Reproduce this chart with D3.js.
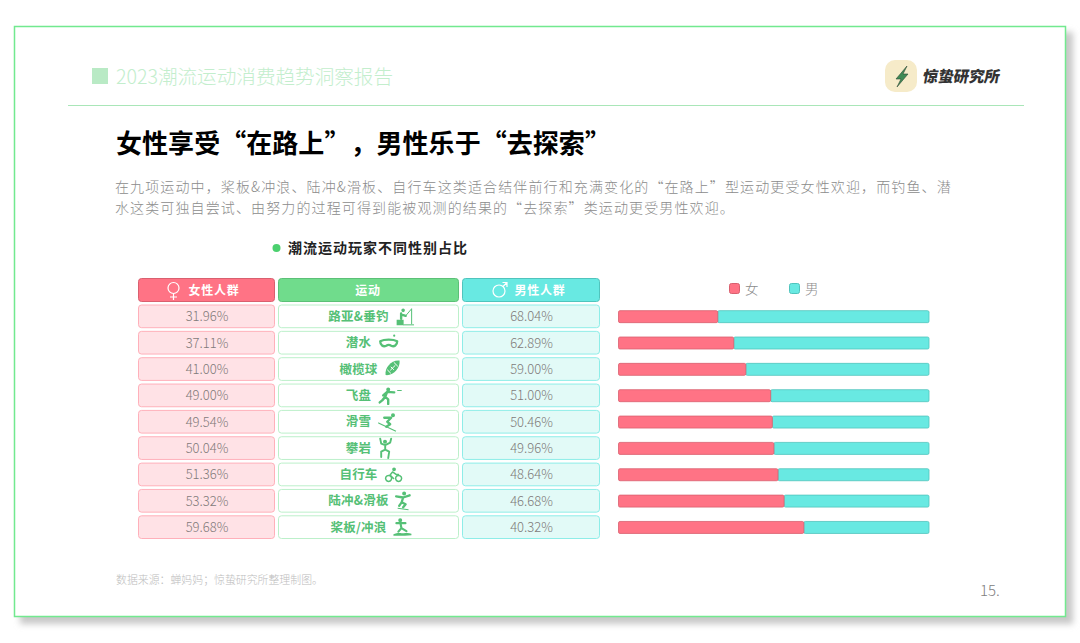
<!DOCTYPE html>
<html>
<head>
<meta charset="utf-8">
<script src="https://cdnjs.cloudflare.com/ajax/libs/d3/7.8.5/d3.min.js"></script>
<style>
html, body { margin: 0; padding: 0; background: #fff; }
svg { display: block; }
text { font-family: "Noto Sans CJK SC", "Noto Sans", sans-serif; text-spacing-trim: space-all; font-kerning: none; }
</style>
</head>
<body>
<div id="chart"></div>
<script>
const sports = ["路亚&垂钓", "潜水", "橄榄球", "飞盘", "滑雪", "攀岩", "自行车", "陆冲&滑板", "桨板/冲浪"];
const femaleShare = [31.96, 37.11, 41.00, 49.00, 49.54, 50.04, 51.36, 53.32, 59.68];
const maleShare = [68.04, 62.89, 59.00, 51.00, 50.46, 49.96, 48.64, 46.68, 40.32];
const legendLabels = ["女", "男"];
const bodyLines = [
    "在九项运动中，桨板&冲浪、陆冲&滑板、自行车这类适合结伴前行和充满变化的“在路上”型运动更受女性欢迎，而钓鱼、潜",
    "水这类可独自尝试、由努力的过程可得到能被观测的结果的“去探索”类运动更受男性欢迎。"
];

const pink = "#ff7385", pinkEdge = "#d9606f", cyan = "#68e9e2", cyanEdge = "#50c4bd", green = "#70dc8c", iconGreen = "#55c076";

const svg = d3.select("#chart").append("svg").attr("width", 1080).attr("height", 643);

// Card with soft shadow
const defs = svg.append("defs");
defs.append("filter").attr("id", "blur").append("feGaussianBlur").attr("stdDeviation", 3);
svg.append("rect").attr("x", 20).attr("y", 32).attr("width", 1053).attr("height", 592).attr("fill", "#c8c8c8").attr("filter", "url(#blur)");
svg.append("rect").attr("x", 14.5).attr("y", 26.5).attr("width", 1051).attr("height", 590).attr("fill", "#fff").attr("stroke", "#72e98f").attr("stroke-width", 1.5);

// Header
svg.append("rect").attr("x", 92).attr("y", 68).attr("width", 16).attr("height", 16).attr("fill", "#b9eac5");
svg.append("text").attr("x", 116).attr("y", 84).attr("font-size", 19.6).attr("font-weight", 300).attr("fill", "#c3eecd").text("2023潮流运动消费趋势洞察报告");
svg.append("line").attr("x1", 68).attr("x2", 1024).attr("y1", 105.5).attr("y2", 105.5).attr("stroke", "#a9e6b8");

// Logo
svg.append("rect").attr("x", 885).attr("y", 60).attr("width", 32).attr("height", 32).attr("rx", 10).attr("fill", "#f6ebc9");
svg.append("path").attr("d", "M907 66 L896 79 L901 79 L897 87 L908 74 L903 74 Z").attr("fill", "#3f8a55").attr("stroke", "#2e4a38").attr("stroke-width", 0.6);
svg.append("text").attr("transform", "translate(922,82) skewX(-10)").attr("font-size", 15.4).attr("font-weight", 900).attr("fill", "#333").text("惊蛰研究所");

// Title and body
svg.append("text").attr("x", 116).attr("y", 153).attr("font-size", 26).attr("font-weight", 700).attr("letter-spacing", 0.05).attr("fill", "#000").text("女性享受“在路上”，男性乐于“去探索”");
svg.selectAll(".body-line").data(bodyLines).enter().append("text")
    .attr("class", "body-line")
    .attr("x", 115)
    .attr("y", (d, i) => 192 + i * 21)
    .attr("font-size", 14)
    .attr("font-weight", 300)
    .attr("letter-spacing", 1.12)
    .attr("fill", "#8c8c8c")
    .text(d => d);

// Chart title
svg.append("circle").attr("cx", 276.5).attr("cy", 248).attr("r", 4).attr("fill", "#4bd06e");
svg.append("text").attr("x", 288).attr("y", 253).attr("font-size", 14).attr("font-weight", 700).attr("letter-spacing", 1).attr("fill", "#222").text("潮流运动玩家不同性别占比");

// Row scale shared by table and bars
const y = d3.scaleBand().domain(sports).range([305, 538.5]).paddingInner(0.1385).paddingOuter(0);
const x = d3.scaleLinear().domain([0, 100]).range([618.5, 929]);
const mid = d => y(d) + y.bandwidth() / 2;

// Table columns
const columns = [
    { x: 138, w: 137, head: pink, headEdge: pinkEdge, fill: "#ffe2e6", edge: "#ffb0ba", title: "女性人群", values: femaleShare },
    { x: 278, w: 181, head: green, headEdge: "#5cc077", fill: "#fff", edge: "#bcf0ca", title: "运动" },
    { x: 462, w: 138, head: cyan, headEdge: cyanEdge, fill: "#e2faf7", edge: "#8eede8", title: "男性人群", values: maleShare }
];

columns.forEach(col => {
    svg.append("rect").attr("x", col.x + 0.5).attr("y", 278.5).attr("width", col.w - 1).attr("height", 23).attr("rx", 3)
        .attr("fill", col.head).attr("stroke", col.headEdge);
    svg.selectAll(null).data(sports).enter().append("rect")
        .attr("x", col.x + 0.5)
        .attr("y", d => y(d))
        .attr("width", col.w - 1)
        .attr("height", y.bandwidth())
        .attr("rx", 3)
        .attr("fill", col.fill)
        .attr("stroke", col.edge);
    if (col.values) {
        svg.selectAll(null).data(sports).enter().append("text")
            .attr("x", col.x + col.w / 2 + 0.5)
            .attr("y", d => mid(d) + 5)
            .attr("text-anchor", "middle")
            .attr("font-family", "'Noto Sans'")
            .attr("font-weight", 300)
            .attr("font-size", 13)
            .attr("fill", "#7f7a7a")
            .text((d, i) => col.values[i].toFixed(2) + "%");
    }
});

// Header labels
const headText = (cx, s) => svg.append("text").attr("x", cx).attr("y", 294.5).attr("text-anchor", "middle")
    .attr("font-size", 12).attr("font-weight", 700).attr("letter-spacing", 0.8).attr("fill", "#fff").text(s);
headText(214, "女性人群");
headText(368, "运动");
headText(540, "男性人群");

// Gender symbols
const symbol = svg.append("g").attr("fill", "none").attr("stroke", "#fff").attr("stroke-width", 1.2);
symbol.append("circle").attr("cx", 173.5).attr("cy", 288).attr("r", 5.5);
symbol.append("path").attr("d", "M173.5 293.5V300M170 297H177");
symbol.append("circle").attr("cx", 499).attr("cy", 291).attr("r", 6);
symbol.append("path").attr("d", "M503 286.5L507 282.5M502.5 282.5H507V287");

// Small sport pictograms: limbs are stroked, heads and boards are filled
const dot = (cx, cy, r) => "M" + (cx - r) + " " + cy + "a" + r + " " + r + " 0 1 0 " + (2 * r) + " 0a" + r + " " + r + " 0 1 0 " + (-2 * r) + " 0Z";
const icons = {
    "路亚&垂钓": { w: 18, sw: 1, line: "M10 9L15.5 2.5M16 2V17M8 18H18", thick: "M5.5 6.5V12M5.5 7.5L10 9", solid: dot(7.5, 3.5, 1.8) + "M1 13H8V18.5H1Z" },
    "潜水": { w: 21, sw: 2.3, line: "M2 8C6 6 15 6 19 8C19 12 16 14 13 12.5C11.5 11.5 9.5 11.5 8 12.5C5 14 2 12 2 8Z", solid: dot(16, 2.5, 1.1) },
    "橄榄球": { w: 16, solid: "M1 15.5C0 8 7 0 15 1C16 8 9 16.5 1 15.5Z", cut: "M3 10.5L6 13.5M9.5 3L13 6.5M6 10.5L10.5 6M6.5 7.5L9 10" },
    "飞盘": { w: 23, sw: 2.4, line: "M9 6L7 11L10 13.5V18M7 11L4 14.5L1.5 16.5M9 6L16 6.5M9 6L5 9.5", solid: dot(10, 3.5, 2) + "M19 4H23.5V5H19Z" },
    "滑雪": { w: 18, sw: 2.3, line: "M13 5.5L6 5.5M13 5.5L9 9.5L12 12L8 14.5", solid: dot(14.8, 3, 2) + "M0 10L18 18.5L17.5 19.5L0 11.2Z" },
    "攀岩": { w: 14, sw: 1.9, line: "M2 0L3 5L7 6.5L12 4L13 0M7 6.5V11M7 11L3 13V18.5M7 11L11 13L10 19.5", solid: dot(6.8, 3.2, 2) },
    "自行车": { w: 17, sw: 1.5, line: "M4 10.5a3 3 0 1 0 .1 0ZM14 10.5a3 3 0 1 0 .1 0ZM8 7L5.5 10L9 13.5M8 7L11.5 9.5H14", solid: dot(9.5, 4.4, 1.9) },
    "陆冲&滑板": { w: 15, sw: 2.3, line: "M0.5 5L7.5 6.2L14 4M7.5 6.2L6 11M6 11L10 13L7.5 16M6 11L3.5 14.5", solid: dot(8.5, 2.2, 2) + "M2 16.5L13 18L12.8 19L2 17.5Z" },
    "桨板/冲浪": { w: 18, sw: 2.2, line: "M3 5.5H12M7 5.5L8 10.5M8 10.5L13 13.5M8 10.5L5 14", solid: dot(6.8, 2.5, 2) + "M0 16.5C4 14.5 8 15.5 10 15.5C13 15.5 15 15 18 16V17.5C12 18 6 18.5 0 18Z" }
};

// Sport label centred on its own line, with the pictogram following it
sports.forEach(s => {
    const icon = icons[s];
    const g = svg.append("g");
    const label = g.append("text")
        .attr("x", 358.5)
        .attr("y", mid(s) + 4.5)
        .attr("text-anchor", "middle")
        .attr("font-size", 12.5)
        .attr("font-weight", 700)
        .attr("letter-spacing", 0.2)
        .attr("fill", iconGreen)
        .text(s);
    const textW = label.node().getComputedTextLength();
    const art = g.append("g")
        .attr("transform", "translate(" + (358.5 + textW / 2 + 7) + "," + (mid(s) - 9.5) + ")")
        .attr("stroke-linecap", "round")
        .attr("stroke-linejoin", "round");
    if (icon.solid) art.append("path").attr("d", icon.solid).attr("fill", iconGreen);
    if (icon.line) art.append("path").attr("d", icon.line).attr("fill", "none").attr("stroke", iconGreen).attr("stroke-width", icon.sw);
    if (icon.thick) art.append("path").attr("d", icon.thick).attr("fill", "none").attr("stroke", iconGreen).attr("stroke-width", 2.4);
    if (icon.cut) art.append("path").attr("d", icon.cut).attr("fill", "none").attr("stroke", "#fff").attr("stroke-width", 1);
});

// Legend
const legendColor = d3.scaleOrdinal().domain(legendLabels).range([pink, cyan]);
const legendEdge = d3.scaleOrdinal().domain(legendLabels).range([pinkEdge, cyanEdge]);
const legendX = d3.scalePoint().domain(legendLabels).range([729, 789]);
svg.selectAll(".legend-box").data(legendLabels).enter().append("rect")
    .attr("class", "legend-box")
    .attr("x", d => legendX(d) + 0.5)
    .attr("y", 283.5)
    .attr("width", 10)
    .attr("height", 10)
    .attr("rx", 2)
    .attr("fill", d => legendColor(d))
    .attr("stroke", d => legendEdge(d));
svg.selectAll(".legend-text").data(legendLabels).enter().append("text")
    .attr("class", "legend-text")
    .attr("x", d => legendX(d) + 16)
    .attr("y", 293.5)
    .attr("font-size", 13.5)
    .attr("font-weight", 300)
    .attr("fill", "#8c8c8c")
    .text(d => d);

// Stacked bars
const table = sports.map((s, i) => ({ sport: s, "女": femaleShare[i], "男": maleShare[i] }));
const stacked = d3.stack().keys(legendLabels)(table);
svg.selectAll(".series").data(stacked.slice().reverse()).enter().append("g")
    .attr("class", "series")
    .attr("fill", d => legendColor(d.key))
    .attr("stroke", d => legendEdge(d.key))
    .attr("stroke-width", 0.8)
    .selectAll("rect")
    .data(d => d)
    .enter()
    .append("rect")
    .attr("x", d => x(d[0]))
    .attr("y", d => mid(d.data.sport) - 5.7)
    .attr("width", d => x(d[1]) - x(d[0]))
    .attr("height", 12)
    .attr("rx", 1.5);

// Footer
svg.append("text").attr("x", 116).attr("y", 584).attr("font-size", 10.9).attr("font-weight", 300).attr("fill", "#bdbdbd").text("数据来源：蝉妈妈；惊蛰研究所整理制图。");
svg.append("text").attr("x", 980).attr("y", 596).attr("font-family", "'Noto Sans'").attr("font-weight", 300).attr("font-size", 15).attr("fill", "#808080").text("15.");
</script>
</body>
</html>
